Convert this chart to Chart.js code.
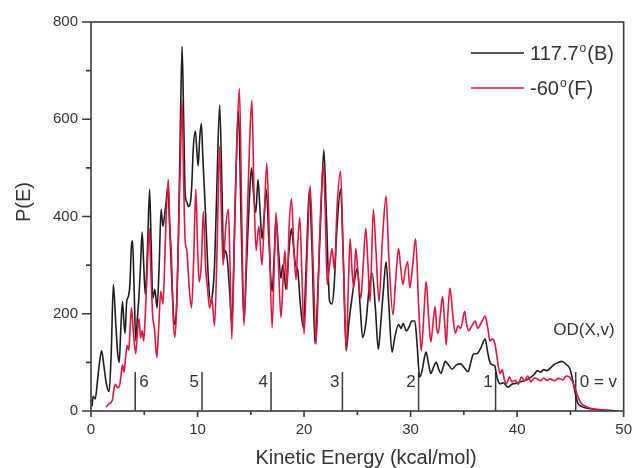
<!DOCTYPE html>
<html>
<head>
<meta charset="utf-8">
<script src="https://cdn.jsdelivr.net/npm/chart.js@4.4.1/dist/chart.umd.min.js"></script>
<style>
  html, body { margin: 0; padding: 0; background: #fff; }
  canvas { display: block; }
</style>
</head>
<body>
<canvas id="chart" width="642" height="468"></canvas>
<script>
// P(E) for the two angles, energy in kcal/mol
const energyB = [
  0.1, 0.2, 0.4, 0.6, 0.8, 1.0, 1.2, 1.45, 1.7, 1.9,
  2.1, 2.3, 2.5, 2.65, 2.8, 2.95, 3.1, 3.2, 3.35, 3.5,
  3.65, 3.8, 3.9, 4.05, 4.2, 4.35, 4.5, 4.65, 4.8, 4.95,
  5.1, 5.3, 5.5, 5.65, 5.8, 6.0, 6.2, 6.4, 6.58, 6.75,
  6.9, 7.05, 7.2, 7.4, 7.6, 7.85, 8.0, 8.2, 8.4, 8.55,
  8.7, 8.85, 9.0, 9.15, 9.3, 9.45, 9.6, 9.8, 9.95, 10.06,
  10.2, 10.36, 10.5, 10.76, 11.0, 11.22, 11.4, 11.6, 11.8, 12.08,
  12.3, 12.45, 12.6, 12.8, 13.0, 13.22, 13.45, 13.65, 13.84, 14.1,
  14.36, 14.6, 14.85, 15.07, 15.25, 15.47, 15.68, 15.85, 16.05, 16.25,
  16.45, 16.7, 17.0, 17.2, 17.37, 17.6, 17.83, 18.0, 18.15, 18.3,
  18.55, 18.82, 19.0, 19.2, 19.4, 19.65, 19.93, 20.2, 20.5, 20.75,
  21.03, 21.3, 21.6, 21.86, 22.1, 22.4, 22.6, 22.8, 23.1, 23.43,
  23.7, 23.96, 24.2, 24.45, 24.75, 25.0, 25.25, 25.5, 25.8, 26.1,
  26.4, 26.7, 26.97, 27.2, 27.45, 27.7, 27.95, 28.26, 28.5, 28.87,
  29.1, 29.3, 29.6, 29.9, 30.1, 30.4, 30.6, 30.85, 31.05, 31.3,
  31.46, 31.7, 31.9, 32.15, 32.4, 32.65, 32.85, 33.05, 33.25, 33.55,
  33.9, 34.3, 34.7, 35.0, 35.4, 35.65, 35.9, 36.25, 36.6, 37.0,
  37.2, 37.45, 37.7, 37.9, 38.1, 38.4, 38.7, 39.15, 39.5, 39.9,
  40.3, 40.8, 41.2, 41.6, 41.9, 42.2, 42.5, 42.8, 43.2, 43.57,
  43.9, 44.2, 44.6, 44.95, 45.2, 45.4, 45.7, 46.0, 46.5, 47.5,
  48.5, 49.5
];
const probB = [
  10, 30, 25, 60, 100, 124, 95, 55, 40, 120,
  260, 190, 120, 100, 170, 225, 180, 160, 225, 235,
  260, 340, 350, 250, 144, 190, 235, 300, 368, 300,
  240, 330, 456, 340, 232, 250, 212, 300, 415, 380,
  400, 430, 459, 370, 260, 178, 200, 350, 600, 750,
  600, 443, 430, 420, 425, 460, 540, 575, 530, 504,
  560, 591, 520, 402, 280, 225, 240, 300, 450, 629,
  450, 314, 330, 310, 250, 178, 350, 520, 618, 380,
  185, 300, 430, 500, 450, 408, 476, 420, 354, 400,
  456, 350, 246, 320, 395, 330, 273, 300, 280, 250,
  320, 375, 340, 300, 290, 220, 171, 300, 456, 330,
  138, 250, 420, 537, 400, 225, 220, 250, 380, 456,
  300, 124, 180, 225, 270, 293, 220, 151, 180, 250,
  283, 210, 127, 180, 250, 307, 220, 121, 150, 178,
  170, 180, 165, 175, 185, 185, 140, 70, 80, 110,
  121, 95, 77, 90, 100, 85, 77, 90, 102, 95,
  86, 95, 97, 90, 81, 100, 117, 118, 130, 148,
  125, 100, 95, 93, 70, 56, 58, 49, 55, 57,
  60, 63, 68, 75, 83, 80, 85, 83, 90, 97,
  100, 102, 96, 87, 65, 43, 16, 10, 6, 3,
  1, 0
];

const energyF = [
  1.4, 1.7, 2.0, 2.15, 2.3, 2.5, 2.65, 2.8, 2.95, 3.1,
  3.25, 3.4, 3.55, 3.65, 3.8, 3.95, 4.2, 4.35, 4.5, 4.65,
  4.8, 4.95, 5.1, 5.3, 5.47, 5.6, 5.78, 5.95, 6.18, 6.35,
  6.55, 6.75, 6.9, 7.05, 7.26, 7.4, 7.56, 7.7, 7.87, 8.05,
  8.25, 8.4, 8.55, 8.7, 8.83, 9.0, 9.2, 9.44, 9.65, 9.84,
  10.0, 10.15, 10.35, 10.55, 10.75, 10.95, 11.13, 11.35, 11.6, 11.85,
  12.06, 12.25, 12.4, 12.65, 12.9, 13.05, 13.22, 13.5, 13.7, 13.93,
  14.15, 14.36, 14.65, 14.9, 15.1, 15.3, 15.5, 15.75, 16.05, 16.3,
  16.5, 16.75, 17.0, 17.2, 17.37, 17.6, 17.83, 18.05, 18.2, 18.4,
  18.6, 18.82, 19.05, 19.25, 19.4, 19.6, 19.8, 20.0, 20.3, 20.57,
  20.85, 21.13, 21.45, 21.8, 22.0, 22.17, 22.4, 22.63, 22.85, 23.1,
  23.43, 23.7, 23.96, 24.15, 24.32, 24.5, 24.66, 24.85, 25.0, 25.34,
  25.55, 25.8, 26.0, 26.2, 26.5, 26.75, 27.03, 27.35, 27.7, 27.95,
  28.35, 28.6, 28.87, 29.05, 29.28, 29.5, 29.73, 29.92, 30.2, 30.47,
  30.75, 31.0, 31.25, 31.46, 31.7, 31.9, 32.1, 32.3, 32.45, 32.6,
  32.8, 33.0, 33.2, 33.35, 33.5, 33.7, 33.95, 34.2, 34.45, 34.7,
  35.08, 35.25, 35.45, 35.75, 36.07, 36.3, 36.6, 37.0, 37.25, 37.45,
  37.65, 37.9, 38.07, 38.25, 38.4, 38.6, 38.8, 39.0, 39.3, 39.5,
  39.8, 40.1, 40.4, 40.7, 41.0, 41.3, 41.6, 41.9, 42.2, 42.5,
  42.8, 43.1, 43.5, 43.9, 44.3, 44.6, 44.9, 45.15, 45.4, 45.7,
  46.0, 46.5, 47.0, 48.0, 49.0
];
const probF = [
  8, 15, 22, 45, 55, 48, 50, 70, 95, 80,
  110, 135, 125, 160, 212, 170, 118, 160, 190, 150,
  165, 144, 200, 300, 375, 300, 199, 170, 110, 170,
  246, 220, 290, 400, 476, 380, 314, 200, 151, 220,
  400, 520, 639, 470, 354, 330, 260, 212, 320, 456,
  340, 266, 300, 410, 300, 250, 212, 230, 175, 350,
  544, 400, 300, 380, 415, 300, 148, 400, 560, 663,
  400, 175, 380, 560, 639, 450, 330, 380, 300, 420,
  510, 350, 171, 300, 408, 300, 192, 280, 330, 250,
  380, 436, 330, 270, 340, 398, 280, 158, 330, 463,
  300, 138, 350, 503, 400, 260, 300, 334, 290, 420,
  493, 300, 124, 250, 354, 290, 253, 334, 300, 232,
  300, 375, 300, 225, 415, 330, 225, 350, 442, 320,
  198, 270, 334, 300, 260, 290, 307, 253, 300, 354,
  220, 124, 200, 266, 190, 142, 180, 215, 170, 160,
  200, 236, 180, 136, 200, 253, 200, 160, 175, 170,
  205, 180, 165, 175, 185, 170, 180, 195, 170, 144,
  148, 140, 117, 90, 77, 85, 65, 56, 70, 60,
  63, 55, 70, 62, 72, 60, 68, 66, 62, 68,
  63, 66, 62, 67, 64, 72, 70, 62, 49, 30,
  16, 9, 5, 2, 1
];

// vibrational level thresholds of OD(X,v)
const levelEnergy = [4.15, 10.42, 16.9, 23.6, 30.75, 37.98, 45.5];
const levelLabels = ['6', '5', '4', '3', '2', '1', '0 = v'];
const levelTop = 80;

const xMajor = [0, 10, 20, 30, 40, 50];
const xMinor = [5, 15, 25, 35, 45];
const yMajor = [0, 200, 400, 600, 800];
const yMinor = [100, 300, 500, 700];

const FONT = '"Liberation Sans", Arial, sans-serif';
const INK = '#333';

const toPoints = (xs, ys) => xs.map((x, i) => ({ x, y: ys[i] }));

const levelSets = levelEnergy.map(e => ({
  data: [{ x: e, y: 0 }, { x: e, y: levelTop }],
  borderColor: '#3a3a3a',
  borderWidth: 1.5,
  pointRadius: 0,
  order: 3
}));

const decorations = {
  id: 'decorations',
  afterDraw(chart) {
    const { ctx, chartArea: a, scales: { x, y } } = chart;
    ctx.save();

    // frame and tick marks
    ctx.strokeStyle = '#3a3a3a';
    ctx.lineWidth = 1.6;
    ctx.strokeRect(a.left, a.top, a.right - a.left, a.bottom - a.top);
    ctx.beginPath();
    yMajor.forEach(v => { const p = y.getPixelForValue(v); ctx.moveTo(a.left - 9, p); ctx.lineTo(a.left, p); });
    yMinor.forEach(v => { const p = y.getPixelForValue(v); ctx.moveTo(a.left - 5, p); ctx.lineTo(a.left, p); });
    xMajor.forEach(v => { const p = x.getPixelForValue(v); ctx.moveTo(p, a.bottom); ctx.lineTo(p, a.bottom + 6); });
    xMinor.forEach(v => { const p = x.getPixelForValue(v); ctx.moveTo(p, a.bottom); ctx.lineTo(p, a.bottom + 4); });
    ctx.stroke();

    // level labels beside each threshold line
    ctx.fillStyle = INK;
    ctx.font = '17px ' + FONT;
    ctx.textBaseline = 'middle';
    const ly = y.getPixelForValue(58);
    levelEnergy.forEach((e, i) => {
      const px = x.getPixelForValue(e);
      const after = i === 0 || i === levelEnergy.length - 1;
      ctx.textAlign = after ? 'left' : 'right';
      ctx.fillText(levelLabels[i], after ? px + 4 : px - 3, ly);
    });
    ctx.textAlign = 'left';
    ctx.fillText('OD(X,v)', x.getPixelForValue(43.4), y.getPixelForValue(165));

    // axis titles
    ctx.font = '20px ' + FONT;
    ctx.textAlign = 'center';
    ctx.textBaseline = 'alphabetic';
    ctx.fillText('Kinetic Energy (kcal/mol)', 366, 464);
    ctx.save();
    ctx.translate(30, 202);
    ctx.rotate(-Math.PI / 2);
    ctx.fillText('P(E)', 0, 0);
    ctx.restore();

    // legend
    const rows = chart.data.datasets.filter(d => d.label);
    rows.forEach((d, i) => {
      const ry = 53 + i * 35;
      ctx.strokeStyle = d.borderColor;
      ctx.lineWidth = 1.6;
      ctx.beginPath();
      ctx.moveTo(471, ry);
      ctx.lineTo(524, ry);
      ctx.stroke();
      const [head, tail] = d.label.split('°');
      const base = ry + 7;
      let tx = 530;
      ctx.textAlign = 'left';
      ctx.font = '20px ' + FONT;
      ctx.fillText(head, tx, base);
      tx += ctx.measureText(head).width + 1;
      ctx.font = '12px ' + FONT;
      ctx.fillText('o', tx, base - 8);
      tx += ctx.measureText('o').width + 1;
      ctx.font = '20px ' + FONT;
      ctx.fillText(tail, tx, base);
    });
    ctx.restore();
  }
};

new Chart(document.getElementById('chart'), {
  type: 'line',
  data: {
    datasets: [
      {
        label: '117.7°(B)',
        data: toPoints(energyB, probB),
        borderColor: '#1e1e1e',
        borderWidth: 1.6,
        pointRadius: 0,
        cubicInterpolationMode: 'monotone',
        order: 2
      },
      {
        label: '-60°(F)',
        data: toPoints(energyF, probF),
        borderColor: '#e3163e',
        borderWidth: 1.6,
        pointRadius: 0,
        cubicInterpolationMode: 'monotone',
        order: 1
      },
      ...levelSets
    ]
  },
  options: {
    responsive: false,
    animation: false,
    events: [],
    layout: { padding: { top: 18, right: 9, left: 0, bottom: 0 } },
    plugins: { legend: { display: false }, tooltip: { enabled: false } },
    scales: {
      x: {
        type: 'linear',
        min: 0,
        max: 50,
        grid: { display: false, drawTicks: false },
        border: { display: false },
        afterBuildTicks: s => { s.ticks = xMajor.map(v => ({ value: v })); },
        afterFit: s => { s.height = 57; },
        ticks: { padding: 10, color: INK, font: { family: FONT, size: 15 }, maxRotation: 0 }
      },
      y: {
        min: 0,
        max: 800,
        grid: { display: false, drawTicks: false },
        border: { display: false },
        afterBuildTicks: s => { s.ticks = yMajor.map(v => ({ value: v })); },
        afterFit: s => { s.width = 91; },
        ticks: { padding: 13, color: INK, font: { family: FONT, size: 15 } }
      }
    }
  },
  plugins: [decorations]
});
</script>
</body>
</html>
